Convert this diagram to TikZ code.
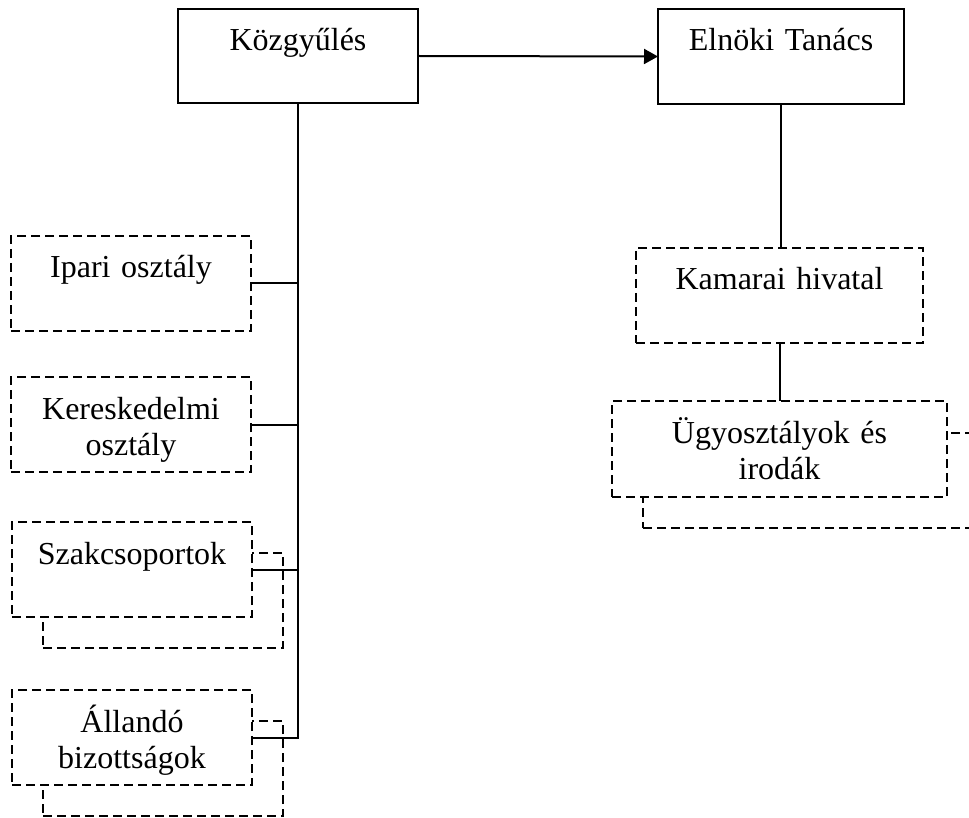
\documentclass[tikz,border=0pt]{standalone}
\usepackage{fontspec}
\setmainfont{Liberation Serif}
\usetikzlibrary{arrows.meta}
\begin{document}
\begin{tikzpicture}[x=0.5pt,y=-0.5pt,
  every node/.style={inner sep=0pt,outer sep=0pt},
  solidbox/.style={draw,line width=1pt,fill=white,rectangle,anchor=north west},
  dashbox/.style={draw,line width=1pt,fill=white,rectangle,anchor=north west,
                  dash pattern=on 4.5pt off 2.5pt},
  wide/.style={minimum width=120pt,minimum height=47.5pt},
  lbl/.style={anchor=base,text width=160pt,align=center,
              font=\fontsize{16pt}{18pt}\selectfont,yshift=-21pt},
  conn/.style={line width=1pt}]
\useasboundingbox (0,0) rectangle (969,818);
\clip (0,0) rectangle (969,818);

% top level
\node[solidbox,minimum width=120pt,minimum height=47pt] (kg) at (178,9) {};
\node[lbl] (kgt) at (kg.north) {Közgyűlés};
\node[solidbox,minimum width=123pt,minimum height=47.5pt] (et) at (658,9) {};
\node[lbl] (ett) at (et.north) {Elnöki Tanács};

% right branch
\node[dashbox,minimum width=143.5pt,minimum height=47.5pt] (kh) at (636,248) {};
\node[lbl] (kht) at (kh.north) {Kamarai hivatal};
\node[dashbox,minimum width=167.5pt,minimum height=47.5pt] (uob) at (643,433) {};
\node[dashbox,minimum width=167.5pt,minimum height=48pt] (uo) at (612,401) {};
\node[lbl] (uot) at (uo.north) {Ügyosztályok és\\irodák};

% left branch
\node[dashbox,wide] (ip) at (11,236) {};
\node[lbl] (ipt) at (ip.north) {Ipari osztály};
\node[dashbox,wide] (kr) at (11,377) {};
\node[lbl] (krt) at (kr.north) {Kereskedelmi\\osztály};
\node[dashbox,wide] (szb) at (43,553) {};
\node[dashbox,wide] (sz) at (12,522) {};
\node[lbl] (szt) at (sz.north) {Szakcsoportok};
\node[dashbox,wide] (alb) at (43,721) {};
\node[dashbox,wide] (al) at (12,690) {};
\node[lbl] (alt) at (al.north) {Állandó\\bizottságok};

% connectors
\draw[conn,-{Triangle[length=7pt,width=7.5pt]}] (kg.east) -- (et.west);
\draw[conn] (kg.south) -- (kg.south |- al.east) -- (al.east);
\draw[conn] (ip.east) -- (ip.east -| kg.south);
\draw[conn] (kr.east) -- (kr.east -| kg.south);
\draw[conn] (sz.east) -- (sz.east -| kg.south);
\draw[conn] (et.south) -- (et.south |- kh.north);
\draw[conn] (kh.south) -- (kh.south |- uo.north);
\end{tikzpicture}
\end{document}
